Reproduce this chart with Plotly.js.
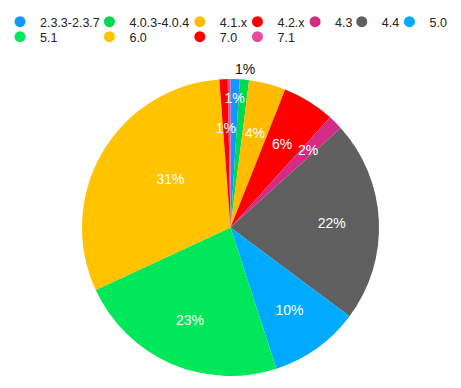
<!DOCTYPE html>
<html>
<head>
<meta charset="utf-8">
<script src="https://cdn.plot.ly/plotly-3.0.1.min.js"></script>
<style>html,body{margin:0;padding:0;background:#fff;}#chart{width:461px;height:388px;}</style>
</head>
<body>
<div id="chart"></div>
<script>
// ---- data ----
var versions = ['2.3.3-2.3.7', '4.0.3-4.0.4', '4.1.x', '4.2.x', '4.3', '4.4', '5.0', '5.1', '6.0', '7.0', '7.1'];
var shares = [1.0, 1.0, 4.0, 5.7, 1.6, 21.9, 9.8, 23.1, 30.7, 0.9, 0.3];
var colors = ['#1496ff', '#00d94f', '#ffbb00', '#ff0000', '#d42b85', '#5f5f5f', '#00aaff', '#00e85a', '#ffc300', '#ff0000', '#e44b9b'];

// ---- layout / style ----
var W = 461, H = 388;
var CX = 229, CY = 227.5, R = 149.5;          // pie centre and radius in pixels
var FONT = 'Liberation Sans, Arial, Helvetica, sans-serif';

// legend grid (text start x, row centre y) in pixels
var legendTextX = [34, 124, 215, 273, 331, 378, 426, 34, 124, 215, 273];
var legendRowY = [22, 22, 22, 22, 22, 22, 22, 37, 37, 37, 37];

// label rings: transparent overlay pies that only carry the percentage labels
var labelLayers = [
  {radius: 134, hole: 0, dx: 0, dy: 0, slices: ['2.3.3-2.3.7'], color: '#ffffff'},
  {radius: 160, hole: 0, dx: 0, dy: -5, slices: ['4.0.3-4.0.4'], color: '#111111'},
  {radius: 111, hole: 0, dx: 0, dy: 0, slices: ['4.1.x'], color: '#ffffff'},
  {radius: 116, hole: 0, dx: 0, dy: 0, slices: ['4.2.x', '4.3'], color: '#ffffff'},
  {radius: 120, hole: 0.7, dx: 0, dy: 0, slices: ['4.4', '5.0', '5.1'], color: '#ffffff'},
  {radius: 95, hole: 0.621, dx: 6, dy: -10, slices: ['6.0'], color: '#ffffff'},
  {radius: 103, hole: 0, dx: 0, dy: 0, slices: ['7.0'], color: '#ffffff'}
];

function domainFor(r, dx, dy) {
  var cx = CX + (dx || 0), cy = CY + (dy || 0);
  return {x: [(cx - r) / W, (cx + r) / W], y: [(H - cy - r) / H, (H - cy + r) / H]};
}

var traces = [{
  type: 'pie',
  labels: versions,
  values: shares,
  sort: false,
  direction: 'clockwise',
  rotation: 0,
  marker: {colors: colors, line: {width: 0}},
  textinfo: 'none',
  showlegend: false,
  hoverinfo: 'none',
  domain: domainFor(R)
}];

labelLayers.forEach(function (L) {
  traces.push({
    type: 'pie',
    labels: versions,
    values: shares,
    sort: false,
    direction: 'clockwise',
    rotation: 0,
    hole: L.hole,
    marker: {colors: versions.map(function () { return 'rgba(0,0,0,0)'; }), line: {width: 0}},
    texttemplate: '%{percent:.0%}',
    textposition: versions.map(function (v) { return L.slices.indexOf(v) >= 0 ? 'inside' : 'none'; }),
    insidetextorientation: 'horizontal',
    insidetextfont: {color: L.color, size: 14, family: FONT},
    showlegend: false,
    hoverinfo: 'none',
    domain: domainFor(L.radius, L.dx, L.dy)
  });
});

var layout = {
  width: W, height: H,
  margin: {l: 0, r: 0, t: 0, b: 0},
  paper_bgcolor: '#ffffff',
  plot_bgcolor: 'rgba(0,0,0,0)',
  font: {family: FONT, color: '#222222'},
  xaxis: {visible: false, fixedrange: true, range: [1, 2]},
  yaxis: {visible: false, fixedrange: true, range: [1, 2]},
  uniformtext: {minsize: 14, mode: 'show'},
  showlegend: true
};

versions.forEach(function (v, i) {
  var key = i === 0 ? 'legend' : 'legend' + (i + 1);
  traces.push({
    type: 'scatter',
    mode: 'markers',
    x: [0], y: [0],
    name: v,
    legend: key,
    marker: {color: colors[i], size: 11, symbol: 'circle'},
    cliponaxis: true,
    hoverinfo: 'skip',
    showlegend: true
  });
  layout[key] = {
    orientation: 'h',
    xref: 'paper', yref: 'paper',
    x: (legendTextX[i] - 37) / W,
    y: 1 - legendRowY[i] / H,
    xanchor: 'left', yanchor: 'middle',
    bgcolor: 'rgba(0,0,0,0)',
    borderwidth: 0,
    itemwidth: 30,
    itemclick: false, itemdoubleclick: false,
    font: {size: 12.5, color: '#222222', family: FONT}
  };
});

Plotly.newPlot('chart', traces, layout, {displayModeBar: false, staticPlot: true});
</script>
</body>
</html>
